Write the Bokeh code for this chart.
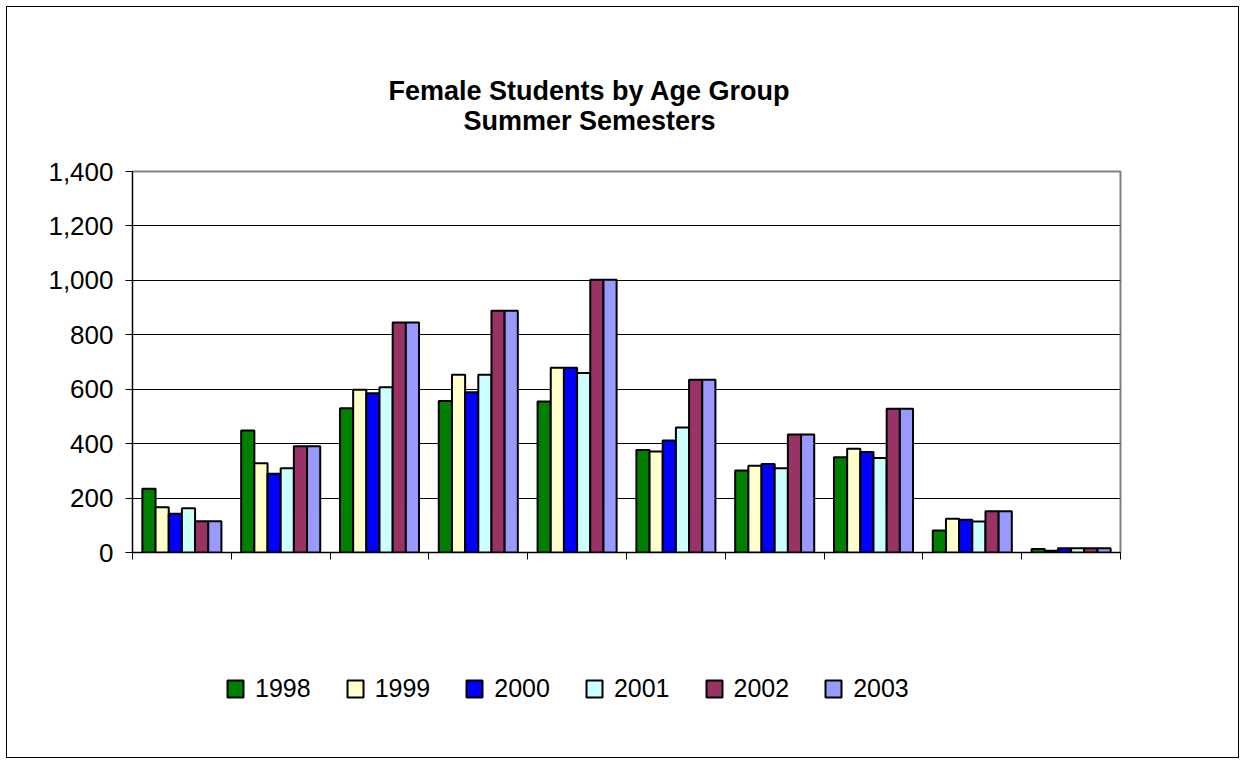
import numpy as np
from bokeh.plotting import figure
from bokeh.layouts import column
from bokeh.models import (ColumnDataSource, FixedTicker, NumeralTickFormatter, Range1d,
                          Label, Legend, LegendItem, BoxAnnotation)
from bokeh.embed import file_html
from bokeh.resources import INLINE

# ---- data ----
groups = list(range(10))          # ten age groups (no labels shown on the chart)
years = ["1998", "1999", "2000", "2001", "2002", "2003"]
v1998 = [234, 448, 530, 557, 555, 377, 301, 350, 81, 13]
v1999 = [166, 328, 598, 653, 679, 371, 319, 381, 124, 6]
v2000 = [142, 289, 585, 589, 679, 412, 325, 369, 120, 16]
v2001 = [163, 310, 607, 653, 660, 459, 310, 347, 114, 16]
v2002 = [115, 390, 845, 888, 1002, 635, 434, 528, 152, 16]
v2003 = [115, 390, 845, 888, 1002, 635, 434, 528, 152, 16]
series = [v1998, v1999, v2000, v2001, v2002, v2003]
colors = ["#008000", "#FFFFCC", "#0000FF", "#CCFFFF", "#993366", "#9999FF"]
y_ticks = [0, 200, 400, 600, 800, 1000, 1200, 1400]
title1 = "Female Students by Age Group"
title2 = "Summer Semesters"

FONT = "Liberation Sans"
W = 1231
TOP_H = 144
LEG_H = 145


def blank_strip(height, xr, yr):
    f = figure(width=W, height=height, output_backend="svg", toolbar_location=None,
               x_range=xr, y_range=yr, x_axis_type=None, y_axis_type=None,
               min_border_left=0, min_border_right=0, min_border_top=0, min_border_bottom=0)
    f.outline_line_color = None
    f.xgrid.visible = False
    f.ygrid.visible = False
    f.background_fill_color = "white"
    f.border_fill_color = "white"
    return f


# ---- title strip ----
tf = blank_strip(TOP_H, Range1d(0, 1), Range1d(0, 1))
for txt, yy in [(title1, TOP_H - 83), (title2, TOP_H - 113)]:
    tf.add_layout(Label(x=457, y=yy, x_units="screen", y_units="screen", text=txt,
                        text_align="center", text_baseline="alphabetic",
                        text_font=FONT, text_font_size="27px", text_font_style="bold",
                        text_color="black"))

# ---- main chart ----
p = figure(width=W, height=461, output_backend="svg", toolbar_location=None,
           x_range=Range1d(0, len(groups)), y_range=Range1d(0, 1400),
           min_border_left=125, min_border_right=118, min_border_top=20,
           min_border_bottom=60)
p.title.text = ""
p.background_fill_color = "white"
p.border_fill_color = "white"
p.outline_line_color = "#808080"
p.outline_line_width = 2

n = len(years)
group_span = 0.8
bw = group_span / n
sources = []
for k, (yr, vals, col) in enumerate(zip(years, series, colors)):
    xs = np.array(groups) + 0.5 - group_span / 2 + bw * (k + 0.5)
    src = ColumnDataSource(dict(x=xs, top=vals))
    sources.append(src)
    p.vbar(x="x", top="top", width=bw, source=src, fill_color=col,
           line_color="black", line_width=2)

p.xaxis.ticker = FixedTicker(ticks=list(range(len(groups) + 1)))
p.xaxis.major_label_overrides = {i: "" for i in range(len(groups) + 1)}
p.xaxis.major_tick_in = 0
p.xaxis.major_tick_out = 7
p.xaxis.minor_tick_line_color = None
p.xaxis.axis_line_color = "black"
p.xaxis.major_tick_line_color = "black"

p.yaxis.ticker = FixedTicker(ticks=y_ticks)
p.yaxis.formatter = NumeralTickFormatter(format="0,0")
p.yaxis.major_tick_in = 0
p.yaxis.major_tick_out = 7
p.yaxis.minor_tick_line_color = None
p.yaxis.axis_line_color = "black"
p.yaxis.major_tick_line_color = "black"
p.yaxis.major_label_text_font = FONT
p.yaxis.major_label_text_font_size = "26px"
p.yaxis.major_label_text_color = "black"
p.yaxis.major_label_standoff = 12

p.xgrid.visible = False
p.ygrid.grid_line_color = "black"
p.ygrid.grid_line_width = 1

# ---- legend strip (same bars, kept out of sight, only feed the legend swatches) ----
lf = blank_strip(LEG_H, Range1d(0, len(groups)), Range1d(2000, 3000))
items = []
for yr, col, src in zip(years, colors, sources):
    r = lf.vbar(x="x", top="top", width=bw, source=src, fill_color=col,
                line_color="black", line_width=2)
    items.append(LegendItem(label=yr, renderers=[r]))
lf.add_layout(BoxAnnotation(fill_color="white", fill_alpha=1.0, line_color=None))
legend = Legend(items=items, orientation="horizontal", location=(93, 54),
                glyph_width=20, glyph_height=21, label_standoff=10, spacing=34,
                padding=0, margin=0, label_width=0,
                label_text_font=FONT, label_text_font_size="25px",
                label_text_color="black",
                border_line_alpha=0, background_fill_alpha=0)
lf.add_layout(legend, "center")

layout = column(tf, p, lf, spacing=0)
layout.styles = {"border": "1px solid black", "margin": "6px"}

open("out.html", "w").write(file_html(layout, INLINE))
